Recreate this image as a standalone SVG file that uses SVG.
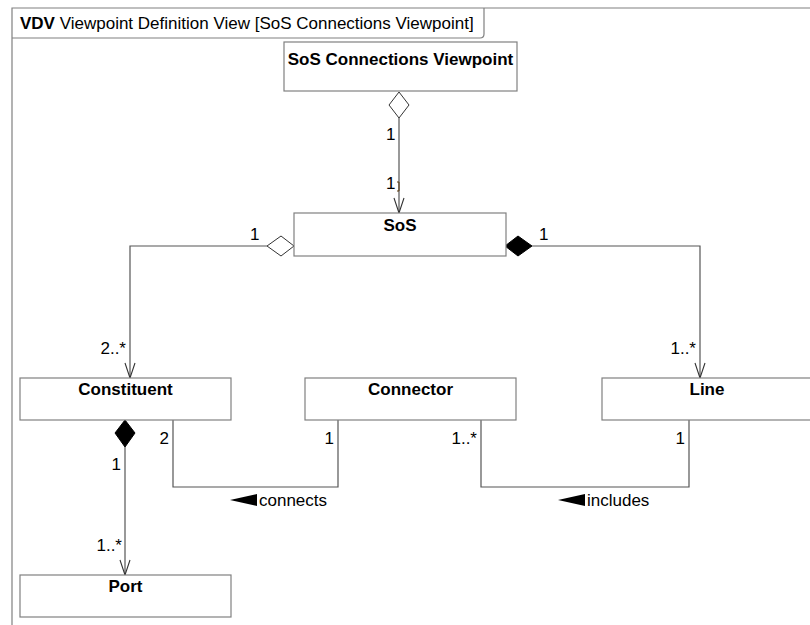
<svg xmlns="http://www.w3.org/2000/svg" width="810" height="625" viewBox="0 0 810 625">
<style>
  .box { fill: #fff; stroke: #808080; stroke-width: 1.2; }
  .frame { fill: none; stroke: #808080; stroke-width: 1.2; }
  .name { font-family: "Liberation Sans", Arial, sans-serif; font-weight: bold; font-size: 17px; text-anchor: middle; fill: #000; }
  .lbl { font-family: "Liberation Sans", Arial, sans-serif; font-size: 17px; fill: #000; }
  .end { text-anchor: end; }
  .edge { fill: none; stroke: #555; stroke-width: 1.2; }
  .hollow { fill: #fff; stroke: #333; stroke-width: 1; }
  .filled { fill: #000; stroke: #000; stroke-width: 1; }
</style>
<defs>
  <marker id="open" markerWidth="18" markerHeight="12" refX="16" refY="6" orient="auto" markerUnits="userSpaceOnUse" viewBox="0 0 18 12">
    <path d="M1,1 L16,6 L1,11" fill="none" stroke="#333" stroke-width="1.1"/>
  </marker>
</defs>
<rect width="810" height="625" fill="#fff"/>
<g id="frame">
  <path class="frame" d="M12,625 V8 H812"/>
  <path class="frame" d="M12,38 H480 Q484,38 484,34 V8"/>
  <text x="20" y="29" class="lbl"><tspan font-weight="bold">VDV</tspan> Viewpoint Definition View [SoS Connections Viewpoint]</text>
</g>
<g id="connectors">
  <path class="edge" d="M399,118 V213" marker-end="url(#open)"/>
  <path class="hollow" d="M399,92 L409,105 L399,118 L389,105 Z"/>
  <path class="edge" d="M267,246 H130 V378" marker-end="url(#open)"/>
  <path class="hollow" d="M294,246 L281,256 L267,246 L281,236 Z"/>
  <path class="edge" d="M532,246 H700 V378" marker-end="url(#open)"/>
  <path class="filled" d="M505,246 L518,236 L532,246 L518,256 Z"/>
  <path class="edge" d="M125,447 V575" marker-end="url(#open)"/>
  <path class="filled" d="M125,420 L135,433 L125,447 L115,433 Z"/>
  <path class="edge" d="M173,420 V487 H338 V420"/>
  <path class="edge" d="M481,420 V487 H689 V420"/>
  <path d="M397,182 H399 V191 H397" fill="none" stroke="#5a3a10" stroke-width="1"/>
  <path d="M230,500 L257,494 L257,506 Z" fill="#000"/>
  <path d="M558,500 L585,494 L585,506 Z" fill="#000"/>
  <text x="259" y="506" class="lbl">connects</text>
  <text x="587" y="506" class="lbl">includes</text>
  <text x="386" y="140" class="lbl">1</text>
  <text x="386" y="189" class="lbl">1</text>
  <text x="250" y="240" class="lbl">1</text>
  <text x="126" y="354" class="lbl end">2..*</text>
  <text x="539" y="240" class="lbl">1</text>
  <text x="696" y="354" class="lbl end">1..*</text>
  <text x="121" y="470" class="lbl end">1</text>
  <text x="122" y="551" class="lbl end">1..*</text>
  <text x="169" y="444" class="lbl end">2</text>
  <text x="334" y="444" class="lbl end">1</text>
  <text x="477" y="444" class="lbl end">1..*</text>
  <text x="685" y="444" class="lbl end">1</text>
</g>
<g id="svp">
  <rect class="box" x="284" y="42" width="233" height="49"/>
  <text x="400.5" y="65" class="name">SoS Connections Viewpoint</text>
</g>
<g id="sos">
  <rect class="box" x="294" y="213" width="212" height="43"/>
  <text x="400" y="231" class="name">SoS</text>
</g>
<g id="constituent">
  <rect class="box" x="20" y="378" width="211" height="42"/>
  <text x="125.5" y="395" class="name">Constituent</text>
</g>
<g id="connector">
  <rect class="box" x="305" y="378" width="211" height="42"/>
  <text x="410.5" y="395" class="name">Connector</text>
</g>
<g id="line">
  <rect class="box" x="602" y="378" width="212" height="42"/>
  <text x="707" y="395" class="name">Line</text>
</g>
<g id="port">
  <rect class="box" x="20" y="575" width="211" height="42"/>
  <text x="125.5" y="592" class="name">Port</text>
</g>
</svg>
